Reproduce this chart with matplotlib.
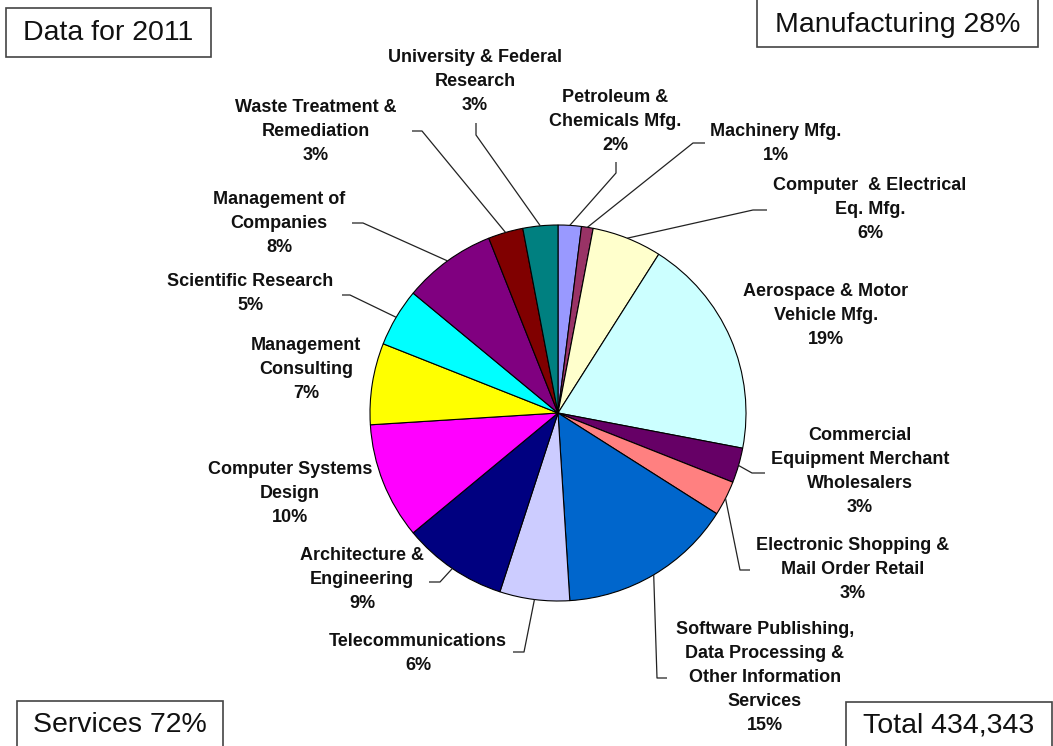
import numpy as np
import matplotlib
matplotlib.use("Agg")
import matplotlib.pyplot as plt
from matplotlib.patches import Rectangle

# ---- data -------------------------------------------------------------
categories = [
    "Petroleum &\nChemicals Mfg.",
    "Machinery Mfg.",
    "Computer  & Electrical\nEq. Mfg.",
    "Aerospace & Motor\nVehicle Mfg.",
    "Commercial\nEquipment Merchant\nWholesalers",
    "Electronic Shopping &\nMail Order Retail",
    "Software Publishing,\nData Processing &\nOther Information\nServices",
    "Telecommunications",
    "Architecture &\nEngineering",
    "Computer Systems\nDesign",
    "Management\nConsulting",
    "Scientific Research",
    "Management of\nCompanies",
    "Waste Treatment &\nRemediation",
    "University & Federal\nResearch",
]
shares = [2, 1, 6, 19, 3, 3, 15, 6, 9, 10, 7, 5, 8, 3, 3]
colors = ["#9999FF", "#993366", "#FFFFCC", "#CCFFFF", "#660066", "#FF8080",
          "#0066CC", "#CCCCFF", "#000080", "#FF00FF", "#FFFF00", "#00FFFF",
          "#800080", "#800000", "#008080"]
year = 2011
manufacturing_share = 28
services_share = 72
total_count = 434343

# ---- layout (pixel coordinates measured from the top-left corner) ------
W, H = 1053, 746
CX, CY, R = 558, 413, 188
# centre of each label block
label_pos = [(615, 121), (776, 144), (870, 209), (826, 316), (860, 471),
             (853, 569), (765, 677), (418, 653), (362, 580), (290, 493),
             (306, 369), (250, 294), (279, 224), (316, 132), (475, 81)]
# leader line: start point and elbow (None -> no leader)
leaders = [
    [(616, 162), (616, 173)],
    [(705, 143), (693, 143)],
    [(767, 210), (753, 210)],
    None,
    [(765, 473), (752, 473)],
    [(750, 570), (740, 570)],
    [(667, 678), (657, 678)],
    [(513, 652), (524, 652)],
    [(429, 582), (440, 582)],
    None,
    None,
    [(342, 295), (350, 295)],
    [(352, 223), (363, 223)],
    [(412, 131), (422, 131)],
    [(476, 123), (476, 135)],
]


def fy(y):
    """pixel row (from top) -> data y"""
    return H - y


fig = plt.figure(figsize=(W / 100, H / 100), dpi=100)
ax = fig.add_axes([0, 0, 1, 1])

ax.pie(shares, colors=colors, startangle=90, counterclock=False,
       center=(CX, fy(CY)), radius=R,
       wedgeprops=dict(edgecolor="black", linewidth=0.8))
ax.set_xlim(0, W)
ax.set_ylim(0, H)
ax.set_aspect("equal")
ax.axis("off")

font = dict(family="Liberation Sans", fontweight="bold", fontsize=13,
            color="#111111")
pitch = 24

cum = 0.0
total = float(sum(shares))
for name, v, (lx, ly), ld in zip(categories, shares, label_pos, leaders):
    mid = 90 - 360 * (cum + v / 2) / total
    cum += v
    lines = name.split("\n") + [f"{v / total * 100:.0f}%"]
    n = len(lines)
    for i, line in enumerate(lines):
        y = ly + (i - (n - 1) / 2) * pitch
        ax.text(lx, fy(y), line, ha="center", va="center", **font)
    if ld is not None:
        ex = CX + R * np.cos(np.radians(mid))
        ey = fy(CY) + R * np.sin(np.radians(mid))
        xs = [ld[0][0], ld[1][0], ex]
        ys = [fy(ld[0][1]), fy(ld[1][1]), ey]
        ax.plot(xs, ys, color="#222222", linewidth=0.9, solid_capstyle="butt")

# ---- corner boxes ------------------------------------------------------
box_font = dict(family="Liberation Sans", fontsize=20.5, color="#111111")
boxes = [
    ((6, 8, 211, 57), f"Data for {year}"),
    ((757, -2, 1038, 47), f"Manufacturing {manufacturing_share}%"),
    ((17, 701, 223, 748), f"Services {services_share}%"),
    ((846, 702, 1052, 748), f"Total {total_count:,}"),
]
for (x0, y0, x1, y1), txt in boxes:
    ax.add_patch(Rectangle((x0, fy(y1)), x1 - x0, y1 - y0, facecolor="white",
                           edgecolor="#444444", linewidth=1.2, zorder=3))
    ty = (max(y0, 0) + min(y1, H)) / 2 + 1
    ax.text((x0 + x1) / 2, fy(ty), txt, ha="center", va="center",
            zorder=4, **box_font)

fig.savefig("out.png", dpi=100, facecolor="white")
